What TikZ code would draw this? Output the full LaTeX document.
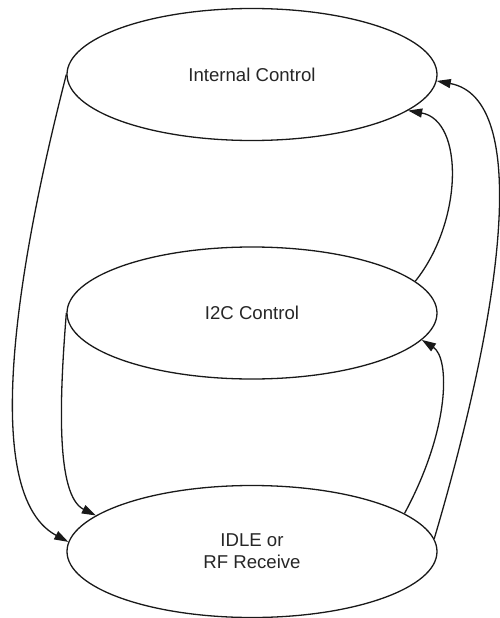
\documentclass[tikz,border=0pt]{standalone}
\usepackage{fontspec}
\setmainfont{Liberation Sans}
\usetikzlibrary{shapes.geometric,arrows.meta}
\begin{document}
\begin{tikzpicture}[x=1pt,y=-1pt,
  state/.style={ellipse,draw=black!90,line width=1.3pt,minimum width=370pt,minimum height=132pt,inner sep=0pt,
    align=center,text=black!85,font=\fontsize{18.6}{22}\selectfont},
  trans/.style={draw=black!90,line width=1.3pt,-{Triangle[length=14pt,width=9pt]}}]
\useasboundingbox (0,0) rectangle (500,618);
\node[state] (top) at (252,74.5) {Internal Control};
\node[state] (mid) at (252,313) {I2C Control};
\node[state] (bot) at (252,551.5) {IDLE or\\RF Receive};
\draw[trans] (top.180) .. controls +(-37,144) and +(-97,-52) .. (bot.177);
\draw[trans] (mid.180) .. controls +(-7,87) and +(-40,-20) .. (bot.167);
\draw[trans] (bot.14) .. controls +(46,-85) and +(28,18) .. (mid.-9.4);
\draw[trans] (bot.4.6) .. controls +(68,-230) and +(95,18) .. (top.-2.3);
\draw[trans] (mid.11.6) .. controls +(48,-60) and +(56,10) .. (top.-13.2);
\end{tikzpicture}
\end{document}
